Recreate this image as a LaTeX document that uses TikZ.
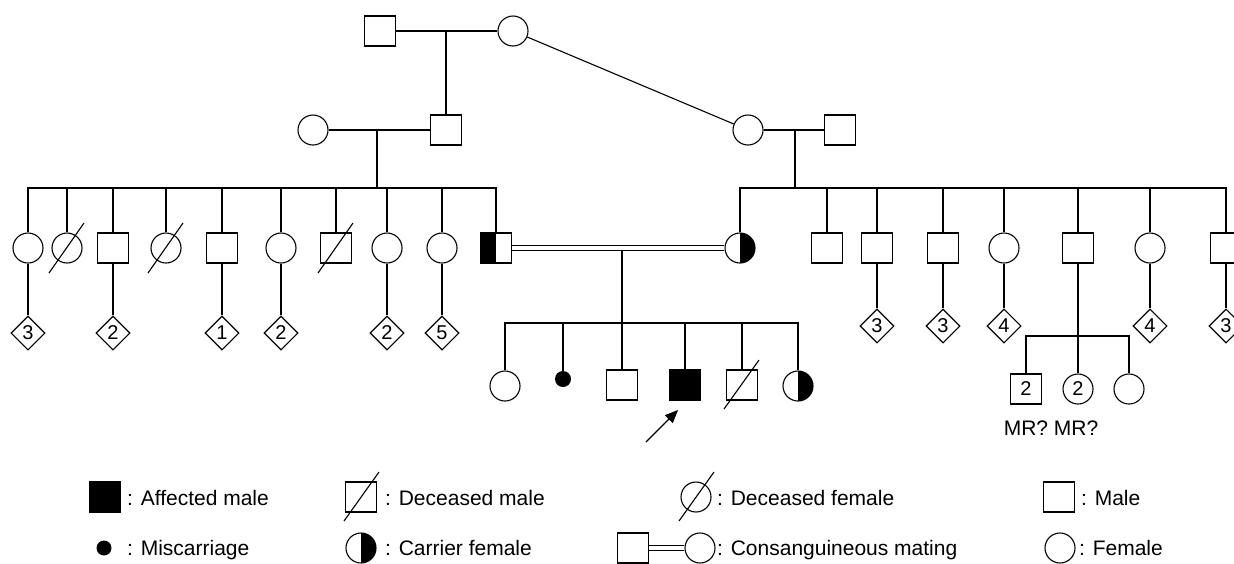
\documentclass[tikz,border=0pt]{standalone}
\usepackage{fontspec}
\setmainfont{Liberation Sans}
\usetikzlibrary{shapes.geometric,arrows.meta}

\tikzset{
  pbase/.style={draw, line width=1.1pt, fill=white, inner sep=0pt, font=\fontsize{20}{24}\selectfont},
  male/.style={pbase, rectangle, minimum width=31pt, minimum height=30pt},
  female/.style={pbase, circle, minimum size=30pt},
  affected/.style={male, fill=black},
  cmale/.style={male, path picture={\fill[black] (path picture bounding box.south west) rectangle (path picture bounding box.north);}},
  cfemale/.style={female, path picture={\fill[black] (path picture bounding box.south) rectangle (path picture bounding box.north east);}},
  misc/.style={circle, fill=black, minimum size=16pt, inner sep=0pt},
  dia/.style={pbase, diamond, minimum width=34pt, minimum height=34pt},
  ln/.style={line width=1.1pt},
  consang/.style={line width=1.1pt, double, double distance=4pt},
  lbl/.style={font=\fontsize{21}{25}\selectfont, anchor=base west, inner sep=0pt},
}

\begin{document}
\begin{tikzpicture}[x=1pt,y=-1pt]
\useasboundingbox (0,0) rectangle (1234,563);
\clip (0,0) rectangle (1234,563);

% ---------- Generation I ----------
\node[male]   (g1m) at (380,31) {};
\node[female] (g1f) at (513,31) {};
\draw[ln] (g1m) -- (g1f);
\coordinate (j1) at (446,31);

% ---------- Generation II ----------
\node[female] (g2f)  at (313,130) {};
\node[male]   (g2m)  at (446,130) {};
\node[female] (g2f2) at (748,130) {};
\node[male]   (g2m2) at (840,130) {};
\draw[ln] (j1) -- (g2m);
\draw[ln] (g1f) -- (g2f2);
\draw[ln] (g2f) -- (g2m);
\draw[ln] (g2f2) -- (g2m2);
\coordinate (j2) at (377,130);
\coordinate (s1) at (377,188);
\coordinate (j4) at (795,130);
\coordinate (s4) at (795,188);

% ---------- Generation III left ----------
\node[female] (c1)  at (28,248)  {};
\node[female] (c2)  at (67,248)  {};
\node[male]   (c3)  at (113,248) {};
\node[female] (c4)  at (166,248) {};
\node[male]   (c5)  at (222,248) {};
\node[female] (c6)  at (281,248) {};
\node[male]   (c7)  at (336,248) {};
\node[female] (c8)  at (387,248) {};
\node[female] (c9)  at (442,248) {};
\node[cmale]  (c10) at (496,248) {};
\draw[ln] (j2) -- (s1);
\draw[ln] (c1.north) |- (s1) -| (c10.north);
\foreach \i in {2,...,9} \draw[ln] (c\i.north) -- (c\i.north |- s1);
\foreach \n in {c2,c4,c7} \draw[ln] (\n.center) ++(-18,25) -- ++(35,-50);

\node[dia] (d1) at (28,333)  {3};
\node[dia] (d3) at (113,333) {2};
\node[dia] (d5) at (222,333) {1};
\node[dia] (d6) at (281,333) {2};
\node[dia] (d8) at (387,333) {2};
\node[dia] (d9) at (442,333) {5};
\draw[ln] (c1) -- (d1);
\draw[ln] (c3) -- (d3);
\draw[ln] (c5) -- (d5);
\draw[ln] (c6) -- (d6);
\draw[ln] (c8) -- (d8);
\draw[ln] (c9) -- (d9);

% ---------- Generation III right ----------
\node[cfemale] (r1) at (740,248)  {};
\node[male]    (r2) at (827,248)  {};
\node[male]    (r3) at (877,248)  {};
\node[male]    (r4) at (943,248)  {};
\node[female]  (r5) at (1004,248) {};
\node[male]    (r6) at (1078,248) {};
\node[female]  (r7) at (1150,248) {};
\node[male]    (r8) at (1226,248) {};
\draw[ln] (j4) -- (s4);
\draw[ln] (r1.north) |- (s4) -| (r8.north);
\foreach \i in {2,...,7} \draw[ln] (r\i.north) -- (r\i.north |- s4);

\node[dia] (e3) at (877,326)  {3};
\node[dia] (e4) at (943,326)  {3};
\node[dia] (e5) at (1004,326) {4};
\node[dia] (e7) at (1150,326) {4};
\node[dia] (e8) at (1226,326) {3};
\draw[ln] (r3) -- (e3);
\draw[ln] (r4) -- (e4);
\draw[ln] (r5) -- (e5);
\draw[ln] (r7) -- (e7);
\draw[ln] (r8) -- (e8);

% consanguineous mating
\draw[consang] (c10) -- (r1);
\coordinate (j3) at (622,251);
\coordinate (s3) at (622,323);

% ---------- Generation IV middle ----------
\node[female]   (m1) at (505,386) {};
\node[misc]     (m2) at (563,379) {};
\node[male]     (m3) at (622,385) {};
\node[affected] (m4) at (685,385) {};
\node[male]     (m5) at (742,385) {};
\node[cfemale]  (m6) at (798,386) {};
\draw[ln] (j3) -- (s3);
\draw[ln] (m1.north) |- (s3) -| (m6.north);
\foreach \n in {m2,m4,m5} \draw[ln] (\n.north) -- (\n.north |- s3);
\draw[ln] (s3) -- (m3);
\draw[ln] (m5.center) ++(-18,24) -- ++(35,-49);

\coordinate (arrs) at (646,442);
\coordinate (arre) at (678,410);
\draw[ln, -{Triangle[length=13pt,width=11pt]}] (arrs) -- (arre);

% ---------- Generation IV right ----------
\node[male]   (q1) at (1026,389) {2};
\node[female] (q2) at (1078,389) {2};
\node[female] (q3) at (1129,389) {};
\coordinate (s5) at (1078,336);
\draw[ln] (r6) -- (q2);
\draw[ln] (q1.north) |- (s5) -| (q3.north);
\node[font=\fontsize{21}{25}\selectfont, anchor=base, inner sep=0pt] (mr) at (1051,435) {MR? MR?};

% ---------- Legend ----------
\node[affected] (la) at (105,497) {};
\node[lbl] (lat) at (127,505) {: Affected male};
\node[male] (ldm) at (361,497) {};
\draw[ln] (ldm.center) ++(-17,24) -- ++(35,-49);
\node[lbl] (ldmt) at (385,505) {: Deceased male};
\node[female] (ldf) at (696,497) {};
\draw[ln] (ldf.center) ++(-17,24) -- ++(35,-49);
\node[lbl] (ldft) at (717,505) {: Deceased female};
\node[male] (lm) at (1059,497) {};
\node[lbl] (lmt) at (1081,505) {: Male};

\node[misc, minimum size=15pt] (lmi) at (104,548) {};
\node[lbl] (lmit) at (127,555) {: Miscarriage};
\node[cfemale] (lcf) at (361,548) {};
\node[lbl] (lcft) at (385,555) {: Carrier female};
\node[male] (lcm) at (633,548) {};
\node[female] (lcw) at (700,548) {};
\draw[consang] (lcm) -- (lcw);
\node[lbl] (lct) at (717,555) {: Consanguineous mating};
\node[female] (lf) at (1060,548) {};
\node[lbl] (lft) at (1079,555) {: Female};
\end{tikzpicture}
\end{document}
